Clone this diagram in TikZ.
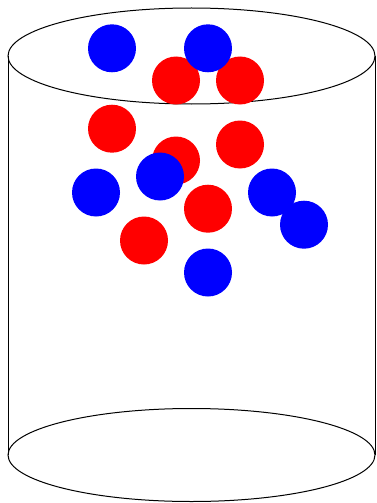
\documentclass[tikz,border=0pt]{standalone}
\begin{document}
\begin{tikzpicture}[x=1pt,y=-1pt,
  rim/.style={draw=black,line width=1pt},
  redball/.style={fill=red},
  blueball/.style={fill=blue}]
\useasboundingbox (0,0) rectangle (376,503);
% cylinder
\draw[rim] (191.5,56) ellipse [x radius=183.5, y radius=48];
\draw[rim] (191.5,455) ellipse [x radius=183.5, y radius=46.5];
\draw[rim] (8,56) -- (8,455);
\draw[rim] (375,56) -- (375,455);
% red balls
\foreach \p in {(176,80.5),(240,80.5),(112,128.7),(240,144.5),(176,160.5),(208,208.7),(144,240.5)}
  \fill[redball] \p circle [radius=24];
% blue balls
\foreach \p in {(112,48.3),(208,48.3),(96,192.5),(160,176.5),(272,192.5),(304,224.7),(208,272.5)}
  \fill[blueball] \p circle [radius=24];
\end{tikzpicture}
\end{document}
